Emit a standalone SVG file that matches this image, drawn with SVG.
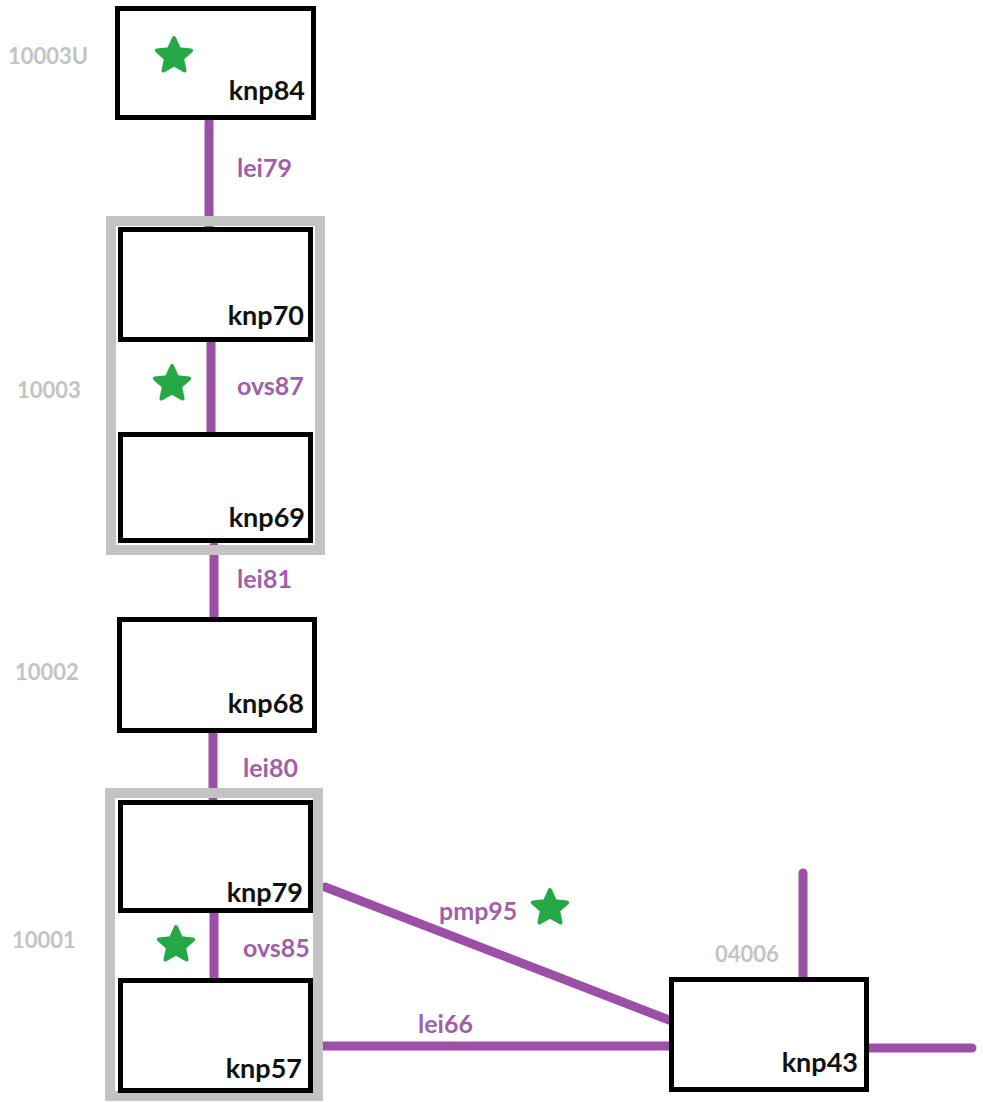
<svg xmlns="http://www.w3.org/2000/svg" width="983" height="1102" viewBox="0 0 983 1102">
<style>
.node{fill:#fff;stroke:#000;stroke-width:5}
.grp{fill:none;stroke:#c3c3c3;stroke-width:10}
.nl{font-family:Lato,"Open Sans","Liberation Sans",sans-serif;font-weight:bold;font-size:27px;fill:#111;text-anchor:end}
.el{font-family:Lato,"Open Sans","Liberation Sans",sans-serif;font-weight:bold;font-size:25px;fill:#a05fab}
.gl{font-family:Lato,"Open Sans","Liberation Sans",sans-serif;font-weight:bold;font-size:22px;fill:#c4c4c4}
.con{stroke:#9b4fa6;stroke-width:9;stroke-linecap:round;fill:none}
.star{fill:#27a847;stroke:#27a847;stroke-width:4;stroke-linejoin:round}
</style>
<defs>
<path id="star" d="M0,-18 L5,-6.88 L17.12,-5.56 L8.08,2.63 L10.58,14.56 L0,8.5 L-10.58,14.56 L-8.08,2.63 L-17.12,-5.56 L-5,-6.88 Z"/>
</defs>
<rect width="983" height="1102" fill="#fff"/>
<g id="connectors">
<line class="con" x1="209" y1="122" x2="209" y2="228"/>
<line class="con" x1="211" y1="342" x2="211" y2="434"/>
<line class="con" x1="214" y1="546" x2="214" y2="618"/>
<line class="con" x1="213" y1="731" x2="213" y2="798"/>
<line class="con" x1="214" y1="913" x2="214" y2="977"/>
<line class="con" x1="325" y1="887" x2="669" y2="1020"/>
<line class="con" x1="317" y1="1046" x2="669" y2="1046"/>
<line class="con" x1="803" y1="873" x2="803" y2="977"/>
<line class="con" x1="869" y1="1048" x2="972" y2="1048"/>
<text class="el" x="237" y="177">lei79</text>
<text class="el" x="237" y="395">ovs87</text>
<text class="el" x="237" y="588">lei81</text>
<text class="el" x="243" y="777">lei80</text>
<text class="el" x="243" y="957">ovs85</text>
<text class="el" x="439" y="920">pmp95</text>
<text class="el" x="418" y="1033">lei66</text>
</g>
<g id="group-10003">
<rect class="grp" x="111" y="221" width="209" height="329"/>
<text class="gl" x="17" y="398">10003</text>
</g>
<g id="group-10001">
<rect class="grp" x="110" y="793" width="208" height="303"/>
<text class="gl" x="12" y="948">10001</text>
</g>
<g id="knp84">
<rect class="node" x="117.5" y="8.5" width="196" height="109"/>
<text class="nl" x="305" y="100">knp84</text>
<text class="gl" x="8" y="64">10003U</text>
</g>
<g id="knp70">
<rect class="node" x="120.5" y="229.5" width="190" height="110"/>
<text class="nl" x="304" y="325">knp70</text>
</g>
<g id="knp69">
<rect class="node" x="120.5" y="434.5" width="190" height="106"/>
<text class="nl" x="305" y="527">knp69</text>
</g>
<g id="knp68">
<rect class="node" x="119.5" y="619.5" width="195" height="111"/>
<text class="nl" x="304" y="713">knp68</text>
<text class="gl" x="15" y="680">10002</text>
</g>
<g id="knp79">
<rect class="node" x="120.5" y="802.5" width="190" height="108"/>
<text class="nl" x="303" y="902">knp79</text>
</g>
<g id="knp57">
<rect class="node" x="120.5" y="980.5" width="190" height="110"/>
<text class="nl" x="302" y="1078">knp57</text>
</g>
<g id="knp43">
<rect class="node" x="671.5" y="979.5" width="195" height="110"/>
<text class="nl" x="858" y="1072">knp43</text>
<text class="gl" x="715" y="962">04006</text>
</g>
<g id="stars">
<use href="#star" class="star" x="174" y="56"/>
<use href="#star" class="star" x="172" y="384"/>
<use href="#star" class="star" x="176" y="945"/>
<use href="#star" class="star" x="550" y="908"/>
</g>
</svg>
